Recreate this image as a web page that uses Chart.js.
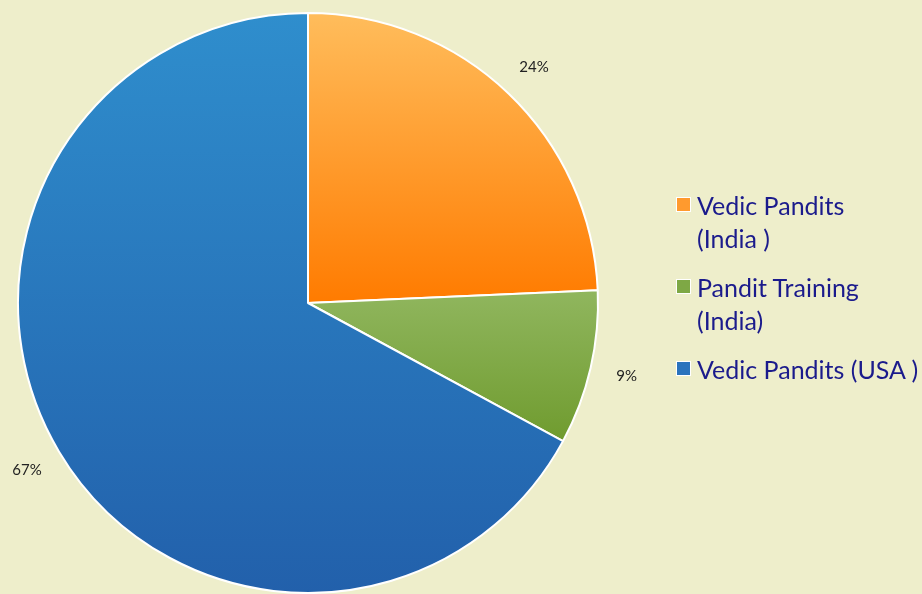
<!DOCTYPE html>
<html>
<head>
<meta charset="utf-8">
<script src="https://cdn.jsdelivr.net/npm/chart.js@4"></script>
<style>
  html, body { margin: 0; padding: 0; background: #eeeecb; }
  #wrap { position: relative; width: 922px; height: 594px; overflow: hidden; }
  #legend { position: absolute; left: 676px; top: 189px; font-family: Lato, "Open Sans", sans-serif; font-size: 25px; color: #1b1b8c; }
  .item { position: relative; padding-left: 21px; line-height: 33px; margin-bottom: 16px; }
  .box { position: absolute; left: 0; top: 8px; width: 13px; height: 13px; border: 1px solid #fff; }
</style>
</head>
<body>
<div id="wrap">
  <canvas id="myChart" width="922" height="594"></canvas>
  <div id="legend"></div>
</div>
<script>
// Data
const categories = ["Vedic Pandits (India )", "Pandit Training (India)", "Vedic Pandits (USA )"];
const legendLines = [["Vedic Pandits", "(India )"], ["Pandit Training", "(India)"], ["Vedic Pandits (USA )"]];
const shares = [24.3, 8.6, 67.1];
const valueLabels = ["24%", "9%", "67%"];

// Slice colours, light (top) and dark (bottom) for the gradient
const sliceColors = [
    ["#ffbd5c", "#ff7b00"],
    ["#90b65e", "#6f9b2e"],
    ["#2f8ecd", "#2260ab"],
];
const swatch = ["#ff9a2e", "#7ea845", "#2a73bd"];

const canvas = document.querySelector("#myChart");

// gradient for each slice over its own vertical span
const sliceGradient = (context) => {
    const chart = context.chart;
    const area = chart.chartArea;
    if (!area) return sliceColors[context.dataIndex][1];
    const ctx = chart.ctx;
    const cy = (area.top + area.bottom) / 2;
    const spans = [
        [area.top, cy],
        [cy - 12, cy + 140],
        [area.top, area.bottom],
    ];
    const [y0, y1] = spans[context.dataIndex];
    const g = ctx.createLinearGradient(0, y0, 0, y1);
    g.addColorStop(0, sliceColors[context.dataIndex][0]);
    g.addColorStop(1, sliceColors[context.dataIndex][1]);
    return g;
};

// percentage labels outside the pie
const outsideLabels = {
    id: "outsideLabels",
    afterDatasetsDraw(chart) {
        const ctx = chart.ctx;
        const meta = chart.getDatasetMeta(0);
        ctx.save();
        ctx.font = "15px Lato, 'Open Sans', sans-serif";
        ctx.fillStyle = "#222222";
        ctx.textAlign = "center";
        ctx.textBaseline = "middle";
        meta.data.forEach((arc, i) => {
            const p = arc.getProps(["x", "y", "startAngle", "endAngle", "outerRadius"], true);
            const mid = (p.startAngle + p.endAngle) / 2;
            const r = p.outerRadius + 37;
            ctx.fillText(valueLabels[i], p.x + Math.cos(mid) * r, p.y + Math.sin(mid) * r);
        });
        ctx.restore();
    },
};

const myChart = new Chart(canvas, {
    type: "pie",
    data: {
        labels: categories,
        datasets: [
            {
                data: shares,
                backgroundColor: sliceGradient,
                borderColor: "#ffffff",
                borderWidth: 2,
            },
        ],
    },
    options: {
        responsive: false,
        animation: false,
        layout: { padding: { left: 17, right: 323, top: 12, bottom: 0 } },
        plugins: {
            legend: { display: false },
            tooltip: { enabled: false },
        },
    },
    plugins: [outsideLabels],
});

// Legend as html so the text wraps like the original
const legend = document.querySelector("#legend");
legendLines.forEach((lines, i) => {
    const item = document.createElement("div");
    item.className = "item";
    item.innerHTML = `<span class="box" style="background:${swatch[i]}"></span>` + lines.join("<br>");
    legend.appendChild(item);
});
</script>
</body>
</html>
